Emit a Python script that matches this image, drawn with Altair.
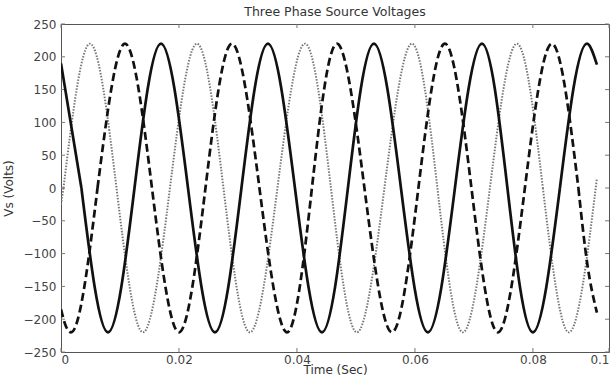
import altair as alt
import pandas as pd

# ---- values (time in s, voltage in V) ----
SOLID_T = [0.0, 0.00346, 0.00797, 0.01246, 0.01695, 0.02153, 0.02610, 0.03059,
           0.03508, 0.03966, 0.04424, 0.04864, 0.05305, 0.05763, 0.06220, 0.06678,
           0.07136, 0.07568, 0.08000, 0.08458, 0.08915, 0.09085]
SOLID_V = [190, 0, -220, 0, 220, 0, -220, 0,
           220, 0, -220, 0, 220, 0, -220, 0,
           220, 0, -220, 0, 220, 188]

DASHED_T = [0.0, 0.00085, 0.00170, 0.00619, 0.01085, 0.01542, 0.02000, 0.02449, 0.02898,
            0.03364, 0.03831, 0.04254, 0.04678, 0.05144, 0.05610, 0.06059, 0.06508,
            0.06958, 0.07407, 0.07864, 0.08322, 0.08771, 0.08924, 0.09085]
DASHED_V = [-185, -211, -220, 0, 220, 0, -220, 0, 220,
            0, -220, 0, 220, 0, -220, 0, 220,
            0, -220, 0, 220, 0, -117, -190]

DOTTED_T = [0.0, 0.00042, 0.00492, 0.00941, 0.01390, 0.01847, 0.02305, 0.02754,
            0.03203, 0.03669, 0.04136, 0.04576, 0.05017, 0.05483, 0.05949, 0.06381,
            0.06814, 0.07271, 0.07729, 0.08169, 0.08610, 0.09085]
DOTTED_V = [-25, 0, 220, 0, -220, 0, 220, 0,
            -220, 0, 220, 0, -220, 0, 220, 0,
            -220, 0, 220, 0, -220, 15]

X_TICKS = [0, 0.02, 0.04, 0.06, 0.08, 0.0929]
Y_TICKS = [-250, -200, -150, -100, -50, 0, 50, 100, 150, 200, 250]
X_MAX = 0.0929

TITLE = "Three Phase Source Voltages"
X_TITLE = "Time (Sec)"
Y_TITLE = "Vs (Volts)"

FONT = "DejaVu Sans"
W, H = 548, 328

x_scale = alt.Scale(domain=[0, X_MAX], nice=False, zero=False)
y_scale = alt.Scale(domain=[-250, 250], nice=False)

x_axis = alt.Axis(values=X_TICKS, format="~g",
                  labelExpr="datum.value > 0.09 ? '0.1' : datum.label",
                  title=X_TITLE, ticks=False, grid=False, domain=False,
                  labelPadding=2, titleY=12, titleBaseline="top")
y_axis = alt.Axis(values=Y_TICKS, title=Y_TITLE, ticks=False, grid=False,
                  domain=False, labelPadding=5, titleX=-46)


def piece(t, v, interp, color, width, dash):
    df = pd.DataFrame({"t": t, "v": v})
    kw = dict(interpolate=interp, color=color, strokeWidth=width, clip=True)
    if dash is not None:
        kw["strokeDash"] = dash
    return alt.Chart(df).mark_line(**kw).encode(
        x=alt.X("t:Q", scale=x_scale, axis=x_axis),
        y=alt.Y("v:Q", scale=y_scale, axis=y_axis),
    )


def wave(t, v, color, width, dash=None):
    # natural spline between the first and last zero crossings,
    # monotone pieces for the partial cycles at both ends
    zeros = [i for i, val in enumerate(v) if val == 0]
    a, b = zeros[0], zeros[-1]
    return [
        piece(t[:a + 1], v[:a + 1], "monotone", color, width, dash),
        piece(t[a:b + 1], v[a:b + 1], "natural", color, width, dash),
        piece(t[b:], v[b:], "monotone", color, width, dash),
    ]


ydf = pd.DataFrame({"v": Y_TICKS})
xdf = pd.DataFrame({"t": X_TICKS})
TICK_COLOR = "#777"
TL = 4

left_ticks = alt.Chart(ydf).mark_rule(color=TICK_COLOR).encode(
    x=alt.value(0), x2=alt.value(TL), y=alt.Y("v:Q", scale=y_scale, axis=y_axis))
right_ticks = alt.Chart(ydf).mark_rule(color=TICK_COLOR).encode(
    x=alt.value(W - TL), x2=alt.value(W), y=alt.Y("v:Q", scale=y_scale, axis=y_axis))
bottom_ticks = alt.Chart(xdf).mark_rule(color=TICK_COLOR).encode(
    x=alt.X("t:Q", scale=x_scale, axis=x_axis), y=alt.value(H - TL), y2=alt.value(H))
top_ticks = alt.Chart(xdf).mark_rule(color=TICK_COLOR).encode(
    x=alt.X("t:Q", scale=x_scale, axis=x_axis), y=alt.value(0), y2=alt.value(TL))

dotted = wave(DOTTED_T, DOTTED_V, "#777777", 2, [1.5, 1.5])
dashed = wave(DASHED_T, DASHED_V, "#111111", 2.7, [8, 4])
solid = wave(SOLID_T, SOLID_V, "#111111", 2.7)

chart = alt.layer(left_ticks, right_ticks, bottom_ticks, top_ticks,
                  *dotted, *dashed, *solid).properties(
    width=W, height=H,
    title=alt.TitleParams(TITLE, fontSize=12.5, font=FONT, fontWeight="normal",
                          color="#333", offset=0, anchor="middle", frame="group"),
    padding={"left": 61, "top": 24, "right": 7, "bottom": 27},
    autosize=alt.AutoSizeParams(type="none"),
    background="white",
).configure_view(
    stroke="#555", strokeWidth=1
).configure_axis(
    labelFont=FONT, labelFontSize=12, labelColor="#444",
    titleFont=FONT, titleFontSize=12, titleFontWeight="normal", titleColor="#333",
)

chart.save("out.html", embed_options={"renderer": "svg", "actions": False})
